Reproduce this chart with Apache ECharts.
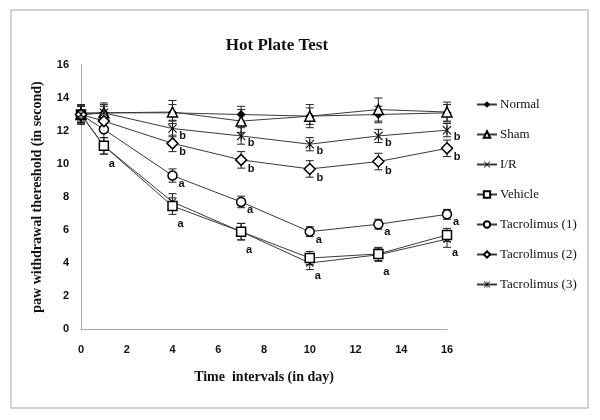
<!DOCTYPE html>
<html>
<head>
<meta charset="utf-8">
<script src="https://cdn.jsdelivr.net/npm/echarts@6/dist/echarts.min.js"></script>
<style>html,body{margin:0;padding:0;background:#fff}#c{width:600px;height:420px}</style>
</head>
<body>
<div id="c"></div>
<script>
var days = [0, 1, 4, 7, 10, 13, 16];
var yTicks = [0, 2, 4, 6, 8, 10, 12, 14, 16];
var seriesNames = ['Normal', 'Sham', 'I/R', 'Vehicle', 'Tacrolimus (1)', 'Tacrolimus (2)', 'Tacrolimus (3)'];
var normal  = [13.1, 13.1, 13.1, 13.0, 12.9, 13.0, 13.1];
var sham    = [13.0, 13.1, 13.15, 12.6, 12.9, 13.3, 13.15];
var ir      = [13.0, 11.1, 7.7, 5.9, 4.0, 4.5, 5.45];
var vehicle = [13.0, 11.1, 7.45, 5.9, 4.3, 4.55, 5.7];
var tac1    = [13.0, 12.1, 9.3, 7.7, 5.9, 6.35, 6.95];
var tac2    = [13.0, 12.6, 11.25, 10.25, 9.7, 10.15, 10.95];
var tac3    = [13.0, 13.1, 12.15, 11.7, 11.2, 11.7, 12.05];
var errNormal  = [0.5, 0.4, 0.5, 0.5, 0.5, 0.5, 0.5];
var errSham    = [0.6, 0.6, 0.7, 0.7, 0.7, 0.7, 0.6];
var errIr      = [0.5, 0.5, 0.5, 0.5, 0.4, 0.4, 0.5];
var errVehicle = [0.5, 0.5, 0.5, 0.5, 0.4, 0.4, 0.4];
var errTac1    = [0.5, 0.5, 0.4, 0.35, 0.3, 0.3, 0.3];
var errTac2    = [0.5, 0.5, 0.5, 0.5, 0.5, 0.5, 0.5];
var errTac3    = [0.5, 0.5, 0.5, 0.5, 0.4, 0.4, 0.4];
var lblVehicle = ['', 'a', 'a', 'a', 'a', 'a', 'a'];
var lblTac1    = ['', '', 'a', 'a', 'a', 'a', 'a'];
var lblTac2    = ['', '', 'b', 'b', 'b', 'b', 'b'];
var lblTac3    = ['', '', 'b', 'b', 'b', 'b', 'b'];

var values = [normal, sham, ir, vehicle, tac1, tac2, tac3];
var errs = [errNormal, errSham, errIr, errVehicle, errTac1, errTac2, errTac3];
var labels = [null, null, null, lblVehicle, lblTac1, lblTac2, lblTac3];
var labelOffsets = [null, null, null, [8, 18], [9, 8], [10, 9], [10, 7]];

var crossPath = 'path://M0,1.6 L1.6,0 L20,18.4 L18.4,20 Z M18.4,0 L20,1.6 L1.6,20 L0,18.4 Z';
var starPath = 'path://M0,1.6 L1.6,0 L20,18.4 L18.4,20 Z M18.4,0 L20,1.6 L1.6,20 L0,18.4 Z M9,0 L11,0 L11,20 L9,20 Z';
var symbols = [
  {symbol: 'diamond', size: 9, fill: '#000', border: 0},
  {symbol: 'triangle', size: 10, fill: '#fff', border: 1.5},
  {symbol: crossPath, size: 8, fill: '#000', border: 0},
  {symbol: 'rect', size: 9, fill: '#fff', border: 1.5},
  {symbol: 'circle', size: 9, fill: '#fff', border: 1.5},
  {symbol: 'diamond', size: 11, fill: '#fff', border: 1.5},
  {symbol: starPath, size: 9, fill: '#000', border: 0}
];

var serif = '"Liberation Serif", "Times New Roman", serif';
var sans = '"Liberation Sans", Arial, sans-serif';

var series = [];
values.forEach(function (vals, si) {
  var data = days.map(function (d, i) { return [d, vals[i] - errs[si][i], vals[i] + errs[si][i]]; });
  series.push({
    type: 'custom',
    name: seriesNames[si] + ' err',
    z: 1,
    silent: true,
    data: data,
    renderItem: function (params, api) {
      var x = api.value(0);
      var lo = api.coord([x, api.value(1)]);
      var hi = api.coord([x, api.value(2)]);
      var w = 4;
      var st = {stroke: '#222', lineWidth: 1};
      return {
        type: 'group',
        children: [
          {type: 'line', shape: {x1: lo[0], y1: lo[1], x2: hi[0], y2: hi[1]}, style: st},
          {type: 'line', shape: {x1: lo[0] - w, y1: lo[1], x2: lo[0] + w, y2: lo[1]}, style: st},
          {type: 'line', shape: {x1: hi[0] - w, y1: hi[1], x2: hi[0] + w, y2: hi[1]}, style: st}
        ]
      };
    }
  });
});
values.forEach(function (vals, si) {
  var s = symbols[si];
  var lbl = labels[si];
  var off = labelOffsets[si];
  series.push({
    type: 'line',
    name: seriesNames[si],
    z: 3,
    data: days.map(function (d, i) { return [d, vals[i]]; }),
    symbol: s.symbol,
    symbolSize: s.size,
    showAllSymbol: true,
    lineStyle: {color: '#3a3a3a', width: 1},
    itemStyle: {color: s.fill, borderColor: '#000', borderWidth: s.border},
    label: lbl ? {
      show: true,
      position: 'inside',
      offset: off,
      formatter: function (p) { return lbl[p.dataIndex]; },
      color: '#111',
      fontFamily: sans,
      fontWeight: 'bold',
      fontSize: 11
    } : {show: false},
    emphasis: {disabled: true},
    animation: false
  });
});

var chart = echarts.init(document.getElementById('c'), null, {renderer: 'canvas'});
chart.setOption({
  animation: false,
  backgroundColor: '#fff',
  title: {
    text: 'Hot Plate Test',
    left: 272,
    top: 32,
    textAlign: 'center',
    textStyle: {fontFamily: serif, fontWeight: 'bold', fontSize: 17, color: '#111'}
  },
  graphic: [{
    type: 'rect',
    shape: {x: 11, y: 10, width: 577, height: 398},
    style: {fill: 'none', stroke: '#c4c4c4', lineWidth: 1.5},
    silent: true,
    z: -10
  }],
  legend: {
    orient: 'vertical',
    left: 471,
    top: 93,
    itemWidth: 20,
    itemHeight: 8,
    itemGap: 17,
    data: seriesNames,
    textStyle: {fontFamily: serif, fontSize: 13, color: '#111', padding: [0, 0, 0, -2]}
  },
  grid: {left: 81, right: 153, top: 65, bottom: 91},
  xAxis: {
    type: 'value',
    min: 0, max: 16, interval: 2,
    name: 'Time  intervals (in day)',
    nameLocation: 'middle',
    nameGap: 41,
    nameTextStyle: {fontFamily: serif, fontWeight: 'bold', fontSize: 14, color: '#111'},
    axisLine: {show: true, lineStyle: {color: '#a8a8a8', width: 1}},
    axisTick: {show: false},
    splitLine: {show: false},
    axisLabel: {margin: 15, fontFamily: sans, fontWeight: 'bold', fontSize: 11, color: '#111'}
  },
  yAxis: {
    type: 'value',
    min: 0, max: 16, interval: 2,
    name: 'paw withdrawal thereshold (in second)',
    nameLocation: 'middle',
    nameGap: 37,
    nameTextStyle: {fontFamily: serif, fontWeight: 'bold', fontSize: 14, color: '#111'},
    axisLine: {show: true, lineStyle: {color: '#a8a8a8', width: 1}},
    axisTick: {show: false},
    splitLine: {show: false},
    axisLabel: {
      margin: 12, fontFamily: sans, fontWeight: 'bold', fontSize: 11, color: '#111',
      formatter: function (v) { return yTicks.indexOf(v) >= 0 ? String(v) : ''; }
    }
  },
  series: series
});
</script>
</body>
</html>
